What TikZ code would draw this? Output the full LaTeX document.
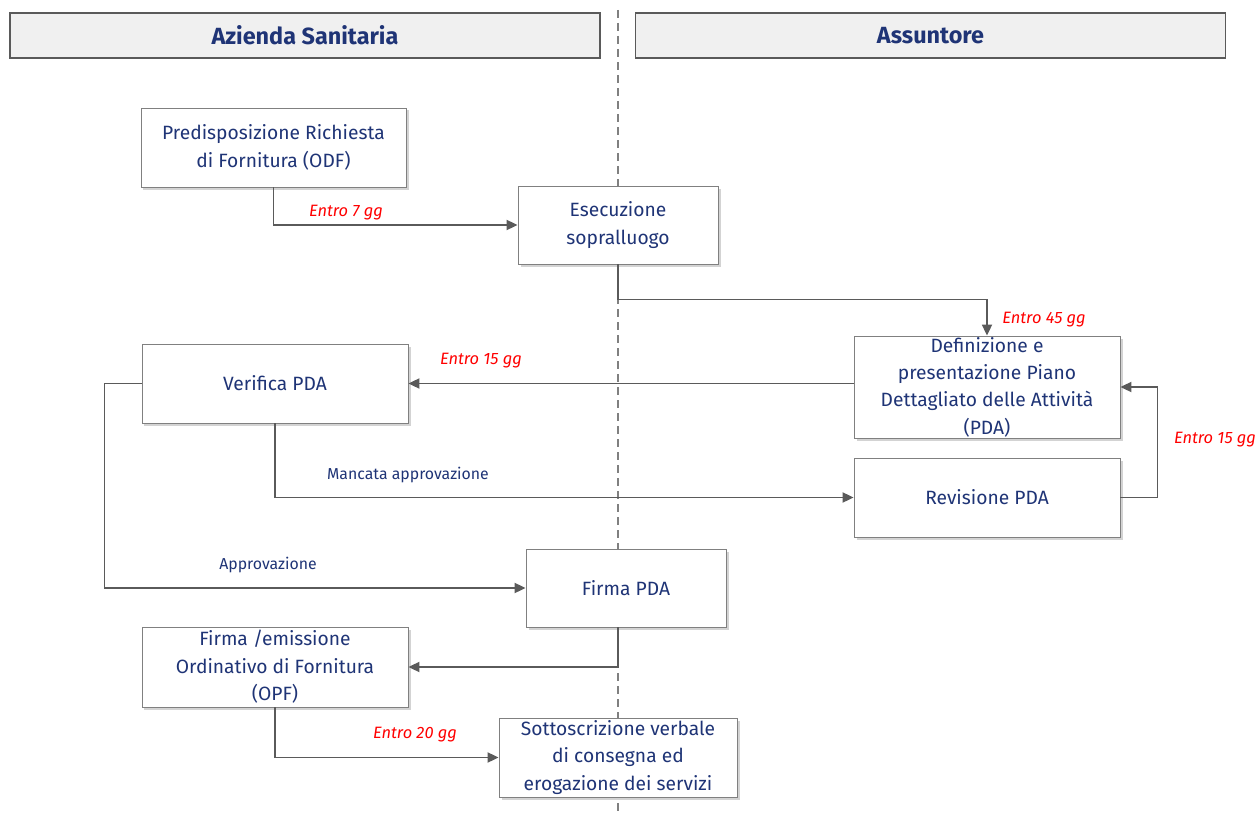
\documentclass[tikz,border=0pt]{standalone}
\usepackage{fontspec}
\setmainfont{Fira Sans}
\usetikzlibrary{arrows.meta,shadows}

\definecolor{navy}{RGB}{31,52,118}
\definecolor{linegray}{RGB}{90,90,90}
\definecolor{headfill}{RGB}{240,240,240}

\tikzset{
  header/.style={rectangle, draw=linegray, fill=headfill, line width=1.2bp, minimum width=590bp, minimum height=45bp, inner sep=0pt, text=navy, font=\fontsize{23.5}{26}\selectfont\bfseries},
  stepbox/.style={rectangle, draw=gray, fill=white, line width=0.8bp, inner sep=0pt, align=center, text=navy, font=\fontsize{19.3}{27.5}\selectfont, drop shadow={shadow xshift=2.5bp, shadow yshift=-2.5bp, opacity=0.35}},
  flow/.style={draw=linegray, line width=1.8bp, -{Triangle[length=11bp,width=10bp]}},
  deadline/.style={text=red, font=\fontsize{16.5}{18}\selectfont\itshape},
  branch/.style={text=navy, font=\fontsize{15.9}{18}\selectfont}
}

\begin{document}
\begin{tikzpicture}[x=1bp,y=-1bp]
  \useasboundingbox (0,0) rectangle (1258,814);
  % divider between the two parties
  \coordinate (mid) at (618,0);
  \draw[gray, line width=1.5bp, dash pattern=on 8bp off 5bp] (618,10) -- (618,814);

  % column headers
  \node[header] (az) at (305,35.5) {Azienda Sanitaria};
  \node[header] (as) at (930.5,35.5) {Assuntore};

  % process steps
  \node[stepbox, minimum width=265bp, minimum height=79bp] (odf) at (273.5,147.5) {Predisposizione Richiesta\\di Fornitura (ODF)};
  \node[stepbox, minimum width=200bp, minimum height=78bp] (sop) at (618,225) {Esecuzione\\sopralluogo};
  \node[stepbox, minimum width=266bp, minimum height=102bp] (pda) at (987,387) {Definizione e\\presentazione Piano\\Dettagliato delle Attività\\(PDA)};
  \node[stepbox, minimum width=266bp, minimum height=79bp] (ver) at (275,383.5) {Verifica PDA};
  \node[stepbox, minimum width=266bp, minimum height=79bp] (rev) at (987,497.5) {Revisione PDA};
  \node[stepbox, minimum width=200bp, minimum height=78bp] (fpda) at (626,588) {Firma PDA};
  \node[stepbox, minimum width=266bp, minimum height=80bp] (opf) at (275,667) {Firma /emissione\\Ordinativo di Fornitura\\(OPF)};
  \node[stepbox, minimum width=238bp, minimum height=79bp] (sott) at (618,757.5) {Sottoscrizione verbale\\di consegna ed\\erogazione dei servizi};

  % connectors
  \draw[flow] (odf.south) |- (sop.west);
  \draw[flow] (sop.south) -- ++(0,35) -| (pda.north);
  \draw[flow] (ver.east -| pda.west) -- (ver.east);
  \draw[flow] (ver.south) |- (rev.west);
  \draw[flow] (rev.east) -- ++(37,0) |- (pda.east);
  \draw[flow] (ver.west) -- ++(-37,0) |- (fpda.west);
  \draw[flow] (fpda.south -| mid) |- (opf.east);
  \draw[flow] (opf.south) |- (sott.west);

  % labels
  \node[deadline] (l7) at (346,213) {Entro 7 gg};
  \node[deadline] (l45) at (1044,320) {Entro 45 gg};
  \node[deadline] (l15a) at (481,361) {Entro 15 gg};
  \node[deadline] (l15b) at (1215,440) {Entro 15 gg};
  \node[deadline] (l20) at (415,735) {Entro 20 gg};
  \node[branch] (lno) at (408,475) {Mancata approvazione};
  \node[branch] (lok) at (268,565) {Approvazione};
\end{tikzpicture}
\end{document}
